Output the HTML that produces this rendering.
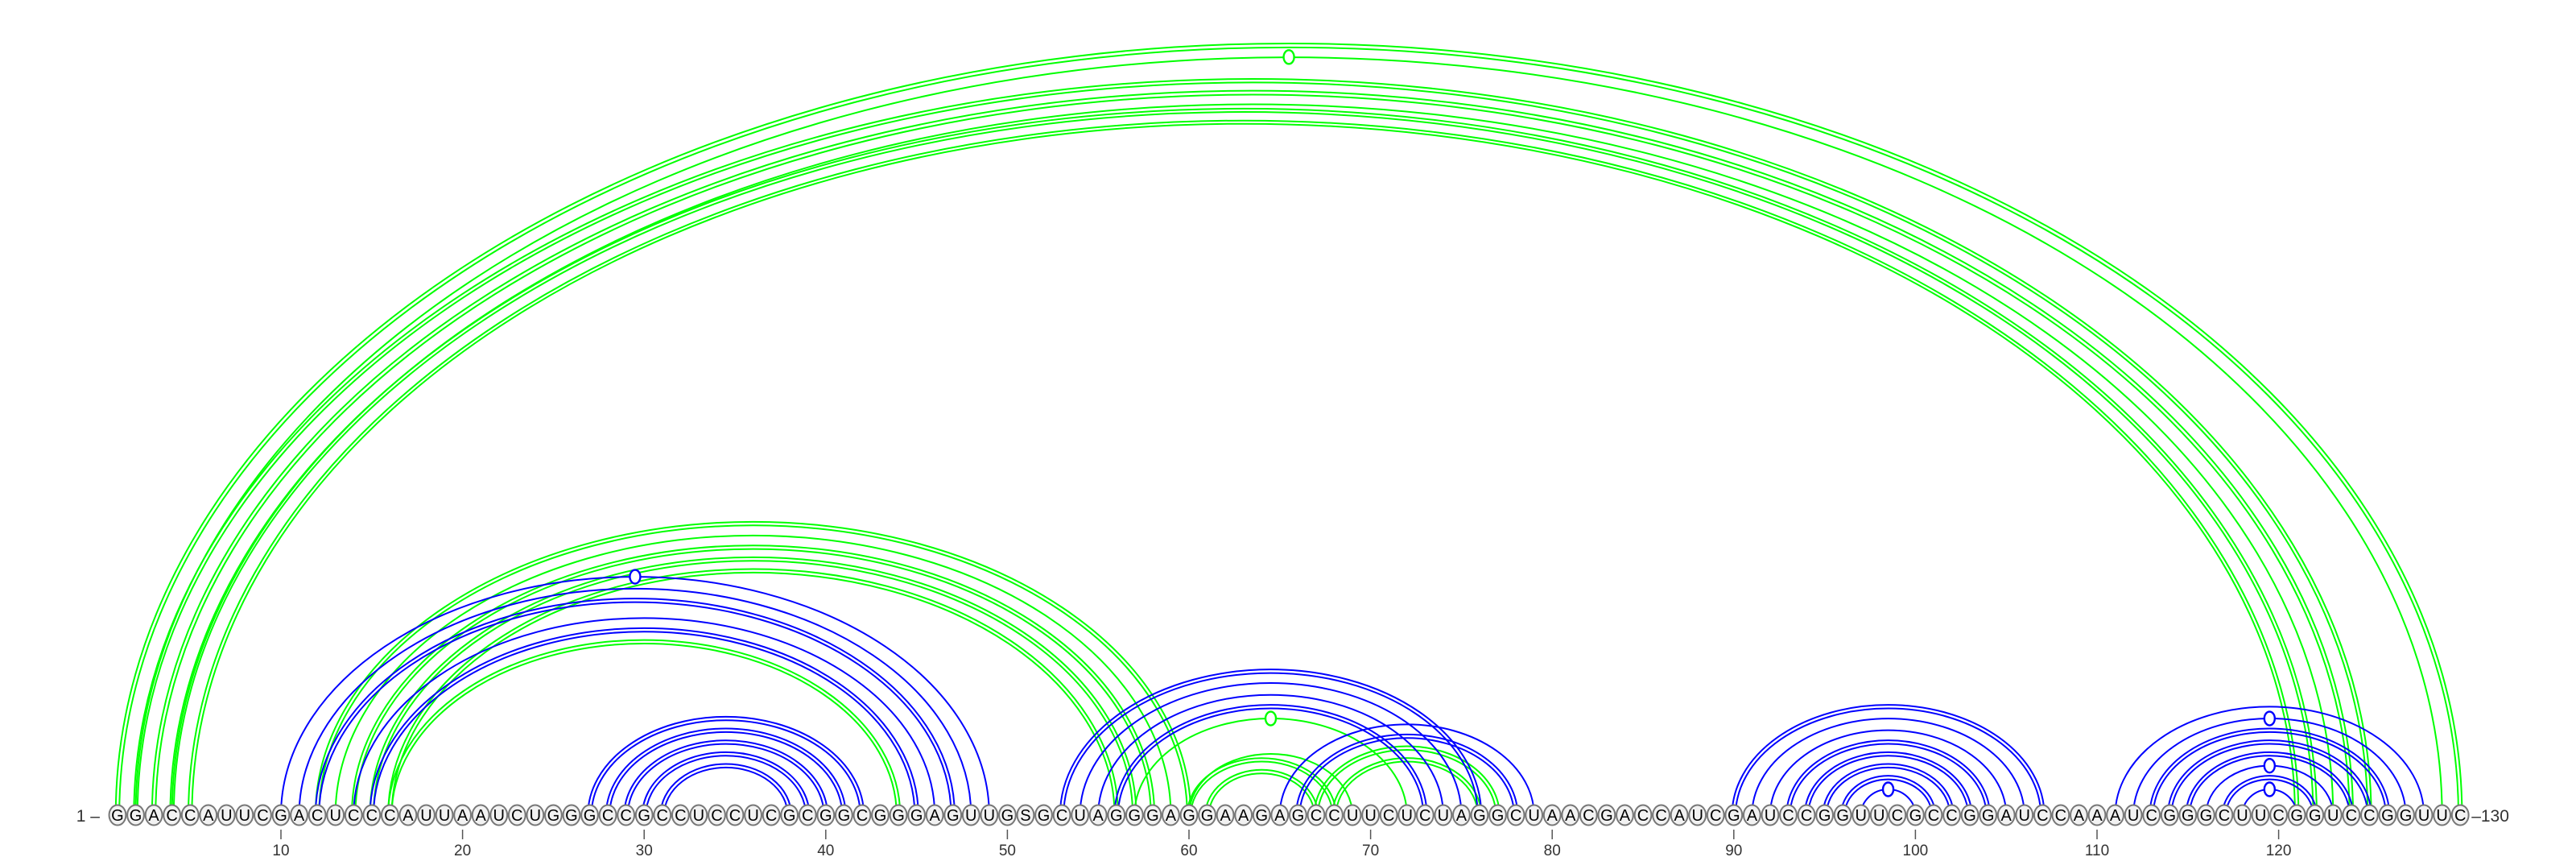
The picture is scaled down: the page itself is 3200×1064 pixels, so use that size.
<!DOCTYPE html>
<html><head><meta charset="utf-8"><style>
html,body{margin:0;padding:0;background:#fff;}
svg{display:block;font-family:"Liberation Sans",sans-serif;}
</style></head><body>
<svg id="chart" width="3200" height="1064" viewBox="0 0 3200 1064" xmlns="http://www.w3.org/2000/svg">
<g id="arcs"></g>
<g id="bases"></g>
<g id="axis"></g>
</svg>
<script>
const sequence = "GGACCAUUCGACUCCCAUUAAUCUGGGCCGCCUCCUCGCGGCGGGAGUUGSGCUAGGGAGGAAGAGCCUUCUCUAGGCUAACGACCAUCGAUCCGGUUCGCCGGAUCCAAAUCGGGCUUCGGUCCGGUUC";
const tickPositions = [10,20,30,40,50,60,70,80,90,100,110,120];
// structure 1 (blue): [i, j, lines, marker]
const bluePairs = [
 [10,49,1,1],[11,48,1,0],[12,47,2,0],[14,46,1,0],[15,45,2,0],
 [27,42,2,0],[28,41,2,0],[29,40,2,0],[30,39,2,0],[31,38,2,0],
 [53,76,2,0],[54,75,1,0],[55,74,1,0],[56,73,2,0],
 [65,79,1,0],[66,78,2,0],
 [90,107,2,0],[91,106,1,0],[92,105,1,0],[93,104,2,0],[94,103,2,0],[95,102,2,0],[96,101,2,0],[97,100,1,1],
 [111,128,1,0],[112,127,1,1],[113,126,2,0],[114,125,2,0],[115,124,2,0],[116,123,1,1],[117,122,2,0],[118,121,1,1]
];
// structure 2 (green)
const greenPairs = [
 [1,130,2,0],[2,129,1,1],[2,125,2,0],[3,124,2,0],[4,123,1,0],[4,122,2,0],[5,121,2,0],
 [12,60,2,0],[13,59,1,0],[14,58,2,0],[15,57,2,0],[16,56,2,0],[16,44,2,0],
 [57,72,1,1],[60,69,1,0],[60,68,2,0],[61,67,2,0],[67,77,2,0],[68,76,2,0]
];
const NS="http://www.w3.org/2000/svg";
const BASE_Y=1012;
function xPos(n){return 349+(n-10)*22.56;}
function arcHeight(hs){return 0.65*hs+10;}
const arcsG=document.getElementById('arcs');
function drawPairs(pairs,color,nm){
  pairs.forEach(p=>{
    const [i,j,lines,marker]=p;
    const x1=xPos(i),x2=xPos(j);
    const hs=(x2-x1)/2, h=arcHeight(hs);
    const offs=lines===2?[-2.2,2.2]:[0];
    offs.forEach(o=>{
      const a=x1+o,b=x2-o,r=(b-a)/2,hh=h-o;
      const path=document.createElementNS(NS,'path');
      path.setAttribute('d',`M${a},${BASE_Y} A${r},${hh} 0 0 1 ${b},${BASE_Y}`);
      path.setAttribute('fill','none');
      path.setAttribute('stroke',color);
      path.setAttribute('stroke-width','2');
      
      
      arcsG.appendChild(path);
    });
    if(marker){
      const c=document.createElementNS(NS,'ellipse');
      c.setAttribute('cx',(x1+x2)/2);c.setAttribute('cy',BASE_Y-h);
      c.setAttribute('rx',6.5);c.setAttribute('ry',8.5);
      c.setAttribute('fill','#fff');c.setAttribute('stroke',color);c.setAttribute('stroke-width','2.4');
      
      
      arcsG.appendChild(c);
    }
  });
}
drawPairs(greenPairs,'#00ff00','green');
drawPairs(bluePairs,'#0000ff','blue');
const basesG=document.getElementById('bases');
for(let k=0;k<sequence.length;k++){
  const n=k+1,x=xPos(n);
  const e=document.createElementNS(NS,'ellipse');
  e.setAttribute('cx',x);e.setAttribute('cy',BASE_Y);e.setAttribute('rx',10.4);e.setAttribute('ry',12.5);
  e.setAttribute('fill','#f2f2f2');e.setAttribute('stroke','#777');e.setAttribute('stroke-width','2');
  
  
  basesG.appendChild(e);
  const t=document.createElementNS(NS,'text');
  t.setAttribute('x',x);t.setAttribute('y',BASE_Y+7);t.setAttribute('text-anchor','middle');
  t.setAttribute('font-size','20');t.setAttribute('fill','#000');
  t.textContent=sequence[k];
  
  
  basesG.appendChild(t);
}
const axisG=document.getElementById('axis');
const s=document.createElementNS(NS,'text');
s.setAttribute('x',xPos(1)-22);s.setAttribute('y',BASE_Y+8);s.setAttribute('text-anchor','end');
s.setAttribute('font-size','21');s.setAttribute('fill','#333');s.textContent='1 \u2013';


axisG.appendChild(s);
const en=document.createElementNS(NS,'text');
en.setAttribute('x',xPos(sequence.length)+14);en.setAttribute('y',BASE_Y+8);
en.setAttribute('font-size','21');en.setAttribute('fill','#333');en.textContent='\u2013130';


axisG.appendChild(en);
tickPositions.forEach(n=>{
  const x=xPos(n);
  const l=document.createElementNS(NS,'line');
  l.setAttribute('x1',x);l.setAttribute('x2',x);l.setAttribute('y1',1030);l.setAttribute('y2',1042);
  l.setAttribute('stroke','#555');l.setAttribute('stroke-width','1.5');
  
  
  axisG.appendChild(l);
  const t=document.createElementNS(NS,'text');
  t.setAttribute('x',x);t.setAttribute('y',1062);t.setAttribute('text-anchor','middle');
  t.setAttribute('font-size','19');t.setAttribute('fill','#333');t.textContent=n;
  
  
  axisG.appendChild(t);
});
</script>
</body></html>
